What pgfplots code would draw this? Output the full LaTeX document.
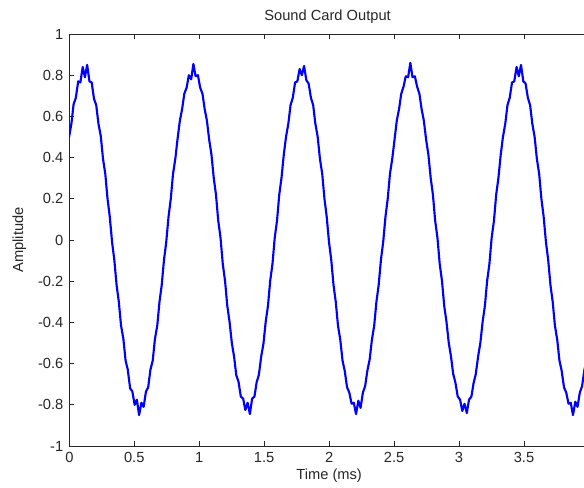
\documentclass[border=0pt]{standalone}
\usepackage{pgfplots}
\pgfplotsset{compat=1.18}
\usepackage{fontspec}
\setmainfont{Liberation Sans}
\begin{document}
\begin{tikzpicture}
\begin{axis}[
  name=ax,
  scale only axis,
  width=389.7pt, height=309pt,
  xmin=0, xmax=4, ymin=-1, ymax=1,
  axis line style={black!85, line width=0.6pt},
  tick style={black!85, line width=0.6pt},
  tick align=inside,
  major tick length=3.75pt,
  xtick={0,0.5,1,1.5,2,2.5,3,3.5},
  xticklabels={0,0.5,1,1.5,2,2.5,3,3.5},
  ytick={-1,-0.8,-0.6,-0.4,-0.2,0,0.2,0.4,0.6,0.8,1},
  yticklabels={-1,-0.8,-0.6,-0.4,-0.2,0,0.2,0.4,0.6,0.8,1},
  /pgf/number format/assume math mode=true,
  tick label style={font=\fontsize{11}{13}\selectfont, text=black!85},
  xticklabel style={yshift=-1pt},
  yticklabel style={xshift=-1pt},
  title={Sound Card Output},
  xlabel={Time (ms)},
  ylabel={Amplitude},
  every axis title/.style={at={(axis description cs:0.497,1.041)}, anchor=center, font=\fontsize{11}{13}\selectfont, text=black!85},
  every axis x label/.style={at={(axis description cs:0.5,-0.0728)}, anchor=center, font=\fontsize{11}{13}\selectfont, text=black!85},
  every axis y label/.style={at={(axis description cs:-0.0962,0.5)}, anchor=center, rotate=90, font=\fontsize{11}{13}\selectfont, text=black!85},
]
\addplot[color={rgb,255:red,0;green,0;blue,255}, line width=1.6pt, line join=round] coordinates {
(-0.002,0.50) (0.016,0.565) (0.033,0.66) (0.050,0.69) (0.068,0.77) (0.085,0.765) (0.103,0.84) (0.120,0.79) (0.137,0.85) (0.155,0.77) (0.172,0.765) (0.190,0.685) (0.207,0.655) (0.224,0.565) (0.242,0.505) (0.259,0.395) (0.277,0.32) (0.294,0.20) (0.311,0.115) (0.329,-0.01) (0.346,-0.095) (0.364,-0.22) (0.381,-0.30) (0.398,-0.415) (0.416,-0.48) (0.433,-0.585) (0.450,-0.63) (0.468,-0.72) (0.485,-0.735) (0.503,-0.80) (0.520,-0.775) (0.537,-0.85) (0.555,-0.79) (0.572,-0.81) (0.590,-0.735) (0.607,-0.715) (0.624,-0.63) (0.642,-0.585) (0.659,-0.48) (0.677,-0.415) (0.694,-0.30) (0.711,-0.22) (0.729,-0.095) (0.746,-0.01) (0.764,0.115) (0.781,0.20) (0.798,0.32) (0.816,0.395)
(0.833,0.49) (0.851,0.58) (0.868,0.635) (0.885,0.71) (0.903,0.74) (0.920,0.80) (0.938,0.78) (0.955,0.855) (0.972,0.795) (0.990,0.80) (1.007,0.74) (1.025,0.71) (1.042,0.635) (1.059,0.58) (1.077,0.485) (1.094,0.415) (1.112,0.30) (1.129,0.22) (1.146,0.095) (1.164,0.01) (1.181,-0.115) (1.199,-0.20) (1.216,-0.32) (1.233,-0.395) (1.251,-0.50) (1.268,-0.565) (1.285,-0.655) (1.303,-0.69) (1.320,-0.76) (1.338,-0.77) (1.355,-0.825) (1.372,-0.79) (1.390,-0.845) (1.407,-0.77) (1.425,-0.76) (1.442,-0.69) (1.459,-0.655) (1.477,-0.565) (1.494,-0.505) (1.512,-0.395) (1.529,-0.32) (1.546,-0.20) (1.564,-0.115) (1.581,0.01) (1.599,0.095) (1.616,0.22) (1.633,0.30) (1.651,0.415)
(1.668,0.50) (1.686,0.565) (1.703,0.655) (1.720,0.69) (1.738,0.765) (1.755,0.77) (1.773,0.83) (1.790,0.80) (1.807,0.845) (1.825,0.775) (1.842,0.76) (1.860,0.69) (1.877,0.655) (1.894,0.565) (1.912,0.50) (1.929,0.395) (1.947,0.32) (1.964,0.20) (1.981,0.115) (1.999,-0.01) (2.016,-0.095) (2.034,-0.22) (2.051,-0.30) (2.068,-0.415) (2.086,-0.485) (2.103,-0.585) (2.120,-0.635) (2.138,-0.715) (2.155,-0.74) (2.173,-0.795) (2.190,-0.79) (2.207,-0.845) (2.225,-0.78) (2.242,-0.815) (2.260,-0.74) (2.277,-0.71) (2.294,-0.635) (2.312,-0.58) (2.329,-0.485) (2.347,-0.415) (2.364,-0.30) (2.381,-0.22) (2.399,-0.095) (2.416,-0.01) (2.434,0.115) (2.451,0.20) (2.468,0.32) (2.486,0.395)
(2.503,0.485) (2.521,0.58) (2.538,0.635) (2.555,0.71) (2.573,0.745) (2.590,0.795) (2.608,0.79) (2.625,0.86) (2.642,0.79) (2.660,0.795) (2.677,0.745) (2.695,0.71) (2.712,0.635) (2.729,0.58) (2.747,0.485) (2.764,0.415) (2.782,0.30) (2.799,0.22) (2.816,0.095) (2.834,0.01) (2.851,-0.115) (2.869,-0.20) (2.886,-0.32) (2.903,-0.395) (2.921,-0.50) (2.938,-0.565) (2.955,-0.65) (2.973,-0.695) (2.990,-0.76) (3.008,-0.775) (3.025,-0.83) (3.042,-0.795) (3.060,-0.84) (3.077,-0.775) (3.095,-0.76) (3.112,-0.695) (3.129,-0.65) (3.147,-0.565) (3.164,-0.50) (3.182,-0.395) (3.199,-0.32) (3.216,-0.20) (3.234,-0.115) (3.251,0.01) (3.269,0.095) (3.286,0.22) (3.303,0.30) (3.321,0.415)
(3.338,0.50) (3.356,0.565) (3.373,0.655) (3.390,0.69) (3.408,0.765) (3.425,0.77) (3.443,0.84) (3.460,0.795) (3.477,0.85) (3.495,0.77) (3.512,0.76) (3.530,0.69) (3.547,0.655) (3.564,0.565) (3.582,0.50) (3.599,0.395) (3.617,0.32) (3.634,0.20) (3.651,0.115) (3.669,-0.01) (3.686,-0.095) (3.704,-0.22) (3.721,-0.30) (3.738,-0.415) (3.756,-0.485) (3.773,-0.585) (3.790,-0.635) (3.808,-0.715) (3.825,-0.74) (3.843,-0.795) (3.860,-0.79) (3.877,-0.85) (3.895,-0.785) (3.912,-0.81) (3.930,-0.74) (3.947,-0.71) (3.964,-0.635) (3.982,-0.58) (3.999,-0.485) (4.017,-0.415)
};
\coordinate (bl) at ([xshift=-52pt,yshift=-30.75pt]axis cs:0,-1);
\coordinate (tr) at ([yshift=25.5pt]axis cs:3.962,1);
\end{axis}
\pgfresetboundingbox
\path[use as bounding box] (bl) rectangle (tr);
\end{tikzpicture}
\end{document}
